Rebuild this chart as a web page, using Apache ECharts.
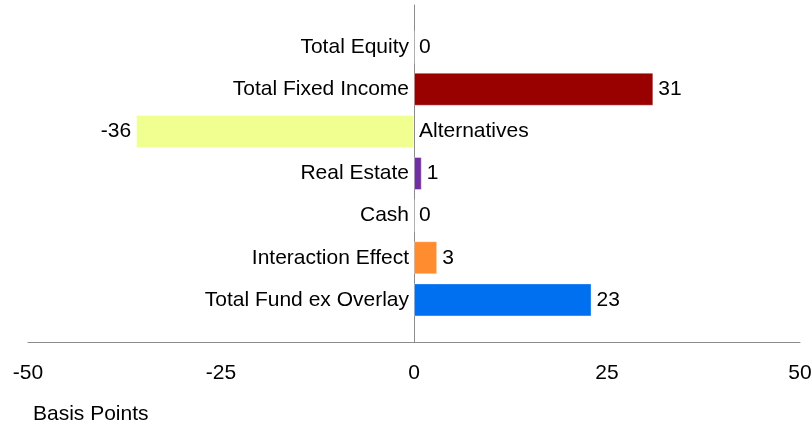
<!DOCTYPE html>
<html lang="en">
<head>
    <meta charset="UTF-8">
    <title>Basis Points</title>
    <script src="https://cdn.jsdelivr.net/npm/echarts@6/dist/echarts.min.js"></script>
    <style>
        html, body { margin: 0; padding: 0; background: #fff; }
        #main { width: 811px; height: 428px; }
    </style>
</head>
<body>
    <div id="main"></div>
    <script>
        // data
        var categories = ['Total Equity', 'Total Fixed Income', 'Alternatives', 'Real Estate', 'Cash', 'Interaction Effect', 'Total Fund ex Overlay'];
        var values = [0, 31, -36, 1, 0, 3, 23];
        var barColors = ['#990000', '#990000', '#f0ff90', '#7030a0', '#7030a0', '#ff8c2e', '#0070f0'];
        var xTicks = [-50, -25, 0, 25, 50];

        // padded with empty slots top and bottom so the zero line runs the full height
        var yCats = [''].concat(categories, ['']);

        var barData = [];
        var valueLabels = [];
        var nameLabels = [];
        for (var i = 0; i < categories.length; i++) {
            barData.push({ value: [values[i], categories[i]], itemStyle: { color: barColors[i] } });
            valueLabels.push({
                value: [values[i], categories[i]],
                label: { position: values[i] < 0 ? 'left' : 'right' }
            });
            nameLabels.push({
                value: [0, categories[i]],
                label: { position: values[i] < 0 ? 'right' : 'left' }
            });
        }

        var myChart = echarts.init(document.getElementById('main'));

        var fontFamily = '"Liberation Sans", Arial, sans-serif';
        var labelStyle = { show: true, distance: 5, fontFamily: fontFamily, fontSize: 21, color: '#000' };

        option = {
            animation: false,
            title: {
                text: 'Basis Points',
                left: 28,
                top: 399,
                textStyle: { fontFamily: fontFamily, fontSize: 21, fontWeight: 'normal', color: '#000' }
            },
            grid: { left: 28, right: 11, top: 5, bottom: 86, outerBoundsMode: 'none', containLabel: false },
            xAxis: {
                type: 'value',
                min: xTicks[0],
                max: xTicks[xTicks.length - 1],
                interval: 25,
                splitLine: { show: false },
                axisTick: { show: false },
                axisLine: { show: true, onZero: false, lineStyle: { color: '#8c8c8c', width: 1 } },
                axisLabel: {
                    margin: 21,
                    fontFamily: fontFamily,
                    fontSize: 21,
                    color: '#000',
                    formatter: function (v) { return xTicks.indexOf(v) >= 0 ? String(v) : ''; }
                }
            },
            yAxis: {
                type: 'category',
                data: yCats,
                inverse: true,
                boundaryGap: false,
                axisTick: { show: false },
                axisLabel: { show: false },
                axisLine: { show: true, onZero: true, lineStyle: { color: '#8c8c8c', width: 1 } },
                splitLine: { show: false }
            },
            series: [
                {
                    name: 'bars',
                    type: 'bar',
                    barWidth: 33,
                    data: barData,
                    itemStyle: { borderColor: 'rgba(255,255,255,0.35)', borderWidth: 1 }
                },
                {
                    name: 'values',
                    type: 'scatter',
                    symbolSize: 0,
                    silent: true,
                    itemStyle: { opacity: 1 },
                    data: valueLabels,
                    label: Object.assign({}, labelStyle, {
                        formatter: function (p) { return String(p.value[0]); }
                    })
                },
                {
                    name: 'names',
                    type: 'scatter',
                    symbolSize: 0,
                    silent: true,
                    itemStyle: { opacity: 1 },
                    data: nameLabels,
                    label: Object.assign({}, labelStyle, {
                        formatter: function (p) { return p.value[1]; }
                    })
                }
            ]
        };

        myChart.setOption(option);
    </script>
</body>
</html>
